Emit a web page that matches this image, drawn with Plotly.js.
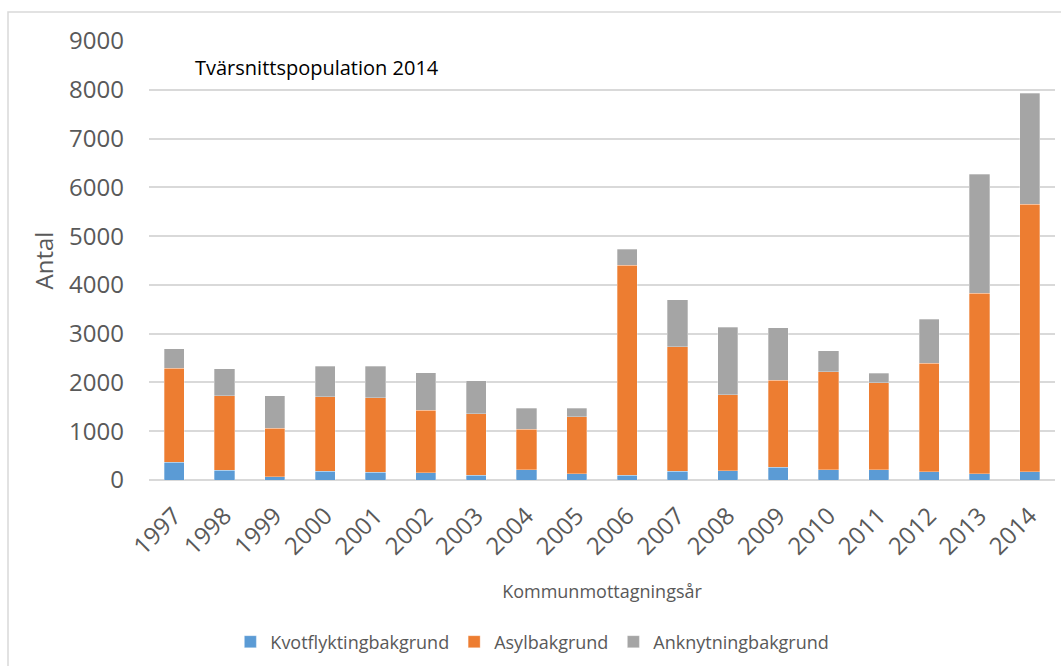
<!DOCTYPE html>
<html>
<head>
<meta charset="utf-8">
<script src="https://cdn.plot.ly/plotly-3.0.1.min.js"></script>
<style>
  html, body { margin: 0; padding: 0; background: #fff; }
  #chart { width: 1061px; height: 666px; }
</style>
</head>
<body>
<div id="chart"></div>
<script>
const years = ["1997","1998","1999","2000","2001","2002","2003","2004","2005","2006","2007","2008","2009","2010","2011","2012","2013","2014"];
const kvotflykting = [365,200,70,180,160,148,95,210,125,100,180,190,260,210,210,170,130,170];
const asyl = [1925,1530,990,1530,1530,1282,1260,835,1175,4300,2555,1560,1780,2005,1780,2225,3700,5480];
const anknytning = [400,550,665,620,640,770,680,430,175,330,960,1380,1080,435,200,905,2440,2275];
const seriesNames = ["Kvotflyktingbakgrund","Asylbakgrund","Anknytningbakgrund"];
const yTicks = [0,1000,2000,3000,4000,5000,6000,7000,8000,9000];

const colors = ["#5B9BD5","#ED7D31","#A5A5A5"];
const font = "'Open Sans', 'Liberation Sans', sans-serif";
const grey = "#595959";

const traces = [kvotflykting, asyl, anknytning].map((vals, i) => ({
  type: "bar",
  name: seriesNames[i],
  x: years,
  y: vals,
  marker: { color: colors[i], line: { color: "rgba(255,255,255,0.6)", width: 0.5 } },
  hoverinfo: "x+y+name"
}));

const layout = {
  width: 1061,
  height: 666,
  margin: { l: 149, r: 6, t: 41, b: 186 },
  barmode: "stack",
  bargap: 0.6,
  paper_bgcolor: "#ffffff",
  plot_bgcolor: "#ffffff",
  font: { family: font, color: grey },
  showlegend: true,
  legend: {
    orientation: "h",
    traceorder: "normal",
    x: 0.0898, xanchor: "left",
    y: -0.369, yanchor: "middle",
    font: { size: 18, color: grey, family: font },
    itemwidth: 30,
    itemclick: false
  },
  xaxis: {
    type: "category",
    tickangle: -45,
    tickfont: { size: 24, color: grey, family: font },
    ticklabelstandoff: 16,
    showgrid: false,
    showline: false,
    zeroline: false,
    ticks: "",
    automargin: false,
    title: { text: "Kommunmottagningsår", font: { size: 18, color: grey, family: font }, standoff: 25 }
  },
  yaxis: {
    range: [0, 9000],
    tickvals: yTicks,
    ticktext: yTicks.map(String),
    tickfont: { size: 24, color: grey, family: font },
    ticklabelstandoff: 24,
    showgrid: true,
    gridcolor: "#d9d9d9",
    gridwidth: 1.5,
    zeroline: true,
    zerolinecolor: "#d9d9d9",
    zerolinewidth: 1.5,
    showline: false,
    ticks: "",
    automargin: false,
    title: { text: "Antal", font: { size: 24, color: grey, family: font }, standoff: 8 }
  },
  annotations: [{
    text: "Tvärsnittspopulation 2014",
    xref: "paper", yref: "paper",
    x: (193 - 149) / 906, xanchor: "left",
    y: (480 - 67) / 439, yanchor: "middle",
    showarrow: false,
    font: { size: 20, color: "#000000", family: font }
  }],
  shapes: [{
    type: "rect",
    xref: "paper", yref: "paper",
    x0: (8 - 149) / 906, x1: 1.2,
    y0: -0.6, y1: (480 - 12) / 439,
    line: { color: "#d9d9d9", width: 1.5 },
    fillcolor: "rgba(0,0,0,0)",
    layer: "below"
  }]
};

Plotly.newPlot("chart", traces, layout, { displayModeBar: false, responsive: false });
</script>
</body>
</html>
